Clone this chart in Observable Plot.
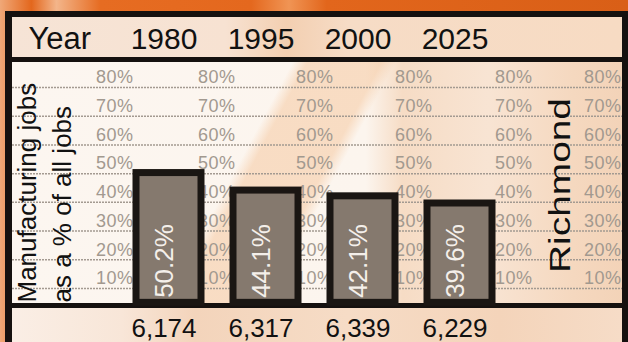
<!DOCTYPE html>
<html>
<head>
<meta charset="utf-8">
<script src="https://cdn.jsdelivr.net/npm/d3@7"></script>
<script src="https://cdn.jsdelivr.net/npm/@observablehq/plot@0.6"></script>
<style>
  html, body { margin: 0; padding: 0; }
  body { width: 628px; height: 342px; overflow: hidden; font-family: "Liberation Sans", Arial, Helvetica, sans-serif; }
  #wrap { position: relative; width: 628px; height: 342px; overflow: hidden;
    background: linear-gradient(90deg, #f0a878 0%, #e3671d 5%, #f3b58a 9%, #e66c22 16%, #e4681e 40%, #f09454 46%, #e2661c 52%, #d95f17 100%); }
  .blk { position: absolute; background: #15110f; }
  #plotbg { position: absolute; left: 12px; top: 62px; width: 610px; height: 242px;
    background:
      linear-gradient(118deg, rgba(255,255,255,0) 0%, rgba(255,255,255,0) 38%, rgba(245,200,160,0.55) 40%, rgba(245,200,160,0.55) 50%, rgba(255,255,255,0) 52%),
      linear-gradient(90deg, #fcf6f0 0%, #fcf5ee 58%, #f6dcc5 64%, #f8e4d3 78%, #f5d8bf 92%, #f3d3b8 100%); }
  #headbg { position: absolute; left: 12px; top: 17px; width: 610px; height: 41px;
    background: linear-gradient(90deg, #f6e4d6 0%, #f7e2d2 35%, #f3cfb1 45%, #f6dcc6 55%, #f7dbc3 100%); }
  #footbg { position: absolute; left: 12px; top: 307px; width: 610px; height: 40px;
    background: linear-gradient(90deg, #faeee5 0%, #f8e6d8 18%, #f3d4bb 30%, #f6dcc6 55%, #f4d4ba 80%, #f6dcc7 100%); }
  #chart { position: absolute; left: 0; top: 0; }
</style>
</head>
<body>
<div id="wrap">
  <div id="headbg"></div>
  <div id="plotbg"></div>
  <div id="footbg"></div>
  <div class="blk" style="left:5px;top:11px;width:7px;height:340px"></div>
  <div class="blk" style="left:5px;top:11px;width:623px;height:6px"></div>
  <div class="blk" style="left:622px;top:11px;width:6px;height:340px"></div>
  <div class="blk" style="left:12px;top:57px;width:610px;height:5px"></div>
  <div class="blk" style="left:12px;top:303px;width:610px;height:5px"></div>
  <div id="chart"></div>
</div>
<script>
// ---- data ----
const years = ["1980", "1995", "2000", "2025"];
const shares = [50.2, 44.1, 42.1, 39.6];          // manufacturing jobs as % of all jobs
const jobs = [6174, 6317, 6339, 6229];            // bottom row numbers
const gridTicks = [10, 20, 30, 40, 50, 60, 70, 80];
const yTitleLines = ["Manufacturing jobs", "as a % of all jobs"];
const headerLabel = "Year";
const placeName = "Richmond";

const data = years.map((year, i) => ({year, share: shares[i], jobs: jobs[i]}));
const fmt = d3.format(",");
const FONT = "Liberation Sans, Arial, Helvetica, sans-serif";

// repeated tick-label columns (horizontal offsets of each column)
const colOffsets = [121, 223, 321, 420, 520, 609];

const marks = [
  Plot.gridY(gridTicks, {stroke: "#a39a91", strokeOpacity: 1, strokeWidth: 1.5, strokeDasharray: "2,1"}),
  ...colOffsets.map(dx => Plot.axisY(gridTicks, {
    anchor: "left", tickSize: 0, tickPadding: 0, label: null, dx, dy: -10,
    tickFormat: d => d + "%", fontSize: 18, fill: "#a2998f"
  })),
  Plot.barY(data, {x: "year", y1: 5, y2: "share", fill: "#85796e", stroke: "#1a1613", strokeWidth: 7}),
  Plot.text(data, {x: "year", y: 5, text: d => d.share.toFixed(1) + "%", rotate: -90,
    textAnchor: "start", fill: "#f4efea", fontSize: 26, dx: -4, dy: -5}),
  Plot.axisX({anchor: "top", tickSize: 0, tickPadding: 14, label: null, fontSize: 30, dx: -5, fill: "#111"}),
  Plot.text([headerLabel], {frameAnchor: "top-left", textAnchor: "start", lineAnchor: "bottom",
    dx: 16, dy: -14, fontSize: 31, fill: "#111"}),
  Plot.text(data, {x: "year", frameAnchor: "bottom", text: d => fmt(d.jobs), lineAnchor: "top",
    dy: 10, dx: -5, fontSize: 26, fill: "#111"}),
  Plot.text([yTitleLines.join("\n")], {frameAnchor: "bottom-left", rotate: -90, textAnchor: "start",
    lineAnchor: "middle", lineHeight: 1.35, dx: 30, dy: -6, fontSize: 26, fill: "#111"}),
  Plot.text([placeName], {frameAnchor: "right", rotate: -90, textAnchor: "middle",
    dx: -62, dy: 0, fontSize: 29, fill: "#111"})
];

const chart = Plot.plot({
  width: 628,
  height: 342,
  marginTop: 62,
  marginBottom: 34,
  marginLeft: 12,
  marginRight: 6,
  style: {background: "transparent", fontFamily: FONT, overflow: "visible"},
  x: {type: "band", domain: years, range: [118.5, 509.5], paddingInner: 0.33, paddingOuter: 0.165, axis: null},
  y: {domain: [0, 80], range: [316.7, 87], axis: null},
  marks
});

// stretch the place name to its printed length; widen the tick labels a little
chart.querySelectorAll("text").forEach(t => {
  if (t.textContent === placeName) {
    t.setAttribute("textLength", "175");
    t.setAttribute("lengthAdjust", "spacingAndGlyphs");
  }
});
chart.querySelectorAll('g[aria-label="y-axis tick label"]').forEach(g => {
  g.style.letterSpacing = "0.5px";
});

document.getElementById("chart").appendChild(chart);
</script>
</body>
</html>
